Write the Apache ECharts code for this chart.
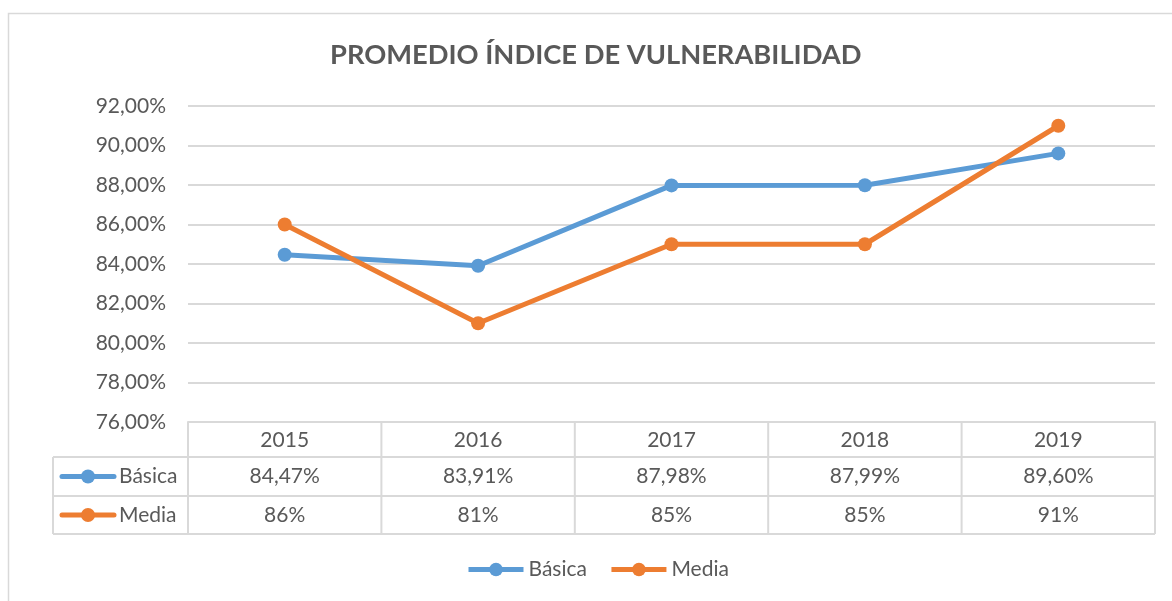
<!DOCTYPE html>
<html>
<head>
<meta charset="utf-8">
<script src="https://cdn.jsdelivr.net/npm/echarts@6/dist/echarts.min.js"></script>
<style>
  html, body { margin: 0; padding: 0; background: #fff; }
  #chart { width: 1172px; height: 601px; }
</style>
</head>
<body>
<div id="chart"></div>
<script>
// datos
var years = ['2015', '2016', '2017', '2018', '2019'];
var basica = [84.47, 83.91, 87.98, 87.99, 89.60];
var media = [86, 81, 85, 85, 91];
var seriesNames = ['Básica', 'Media'];
var colors = ['#5B9BD5', '#ED7D31'];
var yTicks = { min: 76, max: 92, step: 2 };

var FONT = 'Lato';
var GRAY = '#595959';
var LINE = '#d9d9d9';

function pct(v, dec) {
    return v.toFixed(dec).replace('.', ',') + '%';
}

var myChart = echarts.init(document.getElementById('chart'));

var option = {
    animation: false,
    textStyle: { fontFamily: FONT },
    title: {
        text: 'PROMEDIO ÍNDICE DE VULNERABILIDAD',
        left: 325,
        top: 37,
        textStyle: { fontFamily: FONT, fontWeight: 'bold', fontSize: 27.3, color: GRAY }
    },
    legend: {
        data: seriesNames,
        bottom: 16,
        left: 461,
        itemWidth: 55,
        itemHeight: 17,
        itemGap: 22,
        lineStyle: { width: 5 },
        textStyle: { fontFamily: FONT, fontSize: 21, color: GRAY }
    },
    grid: { left: 188, right: 17, top: 106, bottom: 179 },
    xAxis: {
        type: 'category',
        data: years,
        boundaryGap: true,
        axisLine: { show: true, lineStyle: { color: LINE, width: 2 } },
        axisTick: { show: false },
        axisLabel: { margin: 8, fontFamily: FONT, fontSize: 21, color: GRAY }
    },
    yAxis: {
        type: 'value',
        min: yTicks.min,
        max: yTicks.max,
        interval: yTicks.step,
        axisLine: { show: false },
        axisTick: { show: false },
        splitLine: { lineStyle: { color: LINE, width: 2 } },
        axisLabel: {
            margin: 22,
            fontFamily: FONT, fontSize: 21, color: GRAY,
            formatter: function (v) { return pct(v, 2); }
        }
    },
    series: [
        {
            name: seriesNames[0], type: 'line', data: basica,
            symbol: 'circle', symbolSize: 14,
            lineStyle: { width: 5, color: colors[0] },
            itemStyle: { color: colors[0] }
        },
        {
            name: seriesNames[1], type: 'line', data: media,
            symbol: 'circle', symbolSize: 14,
            lineStyle: { width: 5, color: colors[1] },
            itemStyle: { color: colors[1] }
        }
    ]
};
myChart.setOption(option);

// tabla de datos bajo el eje
var rows = [
    { name: seriesNames[0], color: colors[0], vals: basica.map(function (v) { return pct(v, 2); }) },
    { name: seriesNames[1], color: colors[1], vals: media.map(function (v) { return pct(v, 0); }) }
];
var centers = years.map(function (y, i) { return myChart.convertToPixel({ xAxisIndex: 0 }, i); });
var cellW = centers[1] - centers[0];
var x0 = centers[0] - cellW / 2;
var x1 = centers[centers.length - 1] + cellW / 2;
var y0 = myChart.convertToPixel({ yAxisIndex: 0 }, yTicks.min);
var rowY = [y0, y0 + 35, y0 + 74, y0 + 112];
var tableLeft = 53;

var g = [];
// marco exterior del gráfico
g.push({ type: 'rect', shape: { x: 8.5, y: 13.5, width: 1180, height: 600 },
    style: { fill: null, stroke: LINE, lineWidth: 1.5 }, silent: true });
// lineas horizontales
g.push({ type: 'line', shape: { x1: tableLeft, y1: rowY[1], x2: x1, y2: rowY[1] }, style: { stroke: LINE, lineWidth: 2 } });
g.push({ type: 'line', shape: { x1: tableLeft, y1: rowY[2], x2: x1, y2: rowY[2] }, style: { stroke: LINE, lineWidth: 2 } });
g.push({ type: 'line', shape: { x1: tableLeft, y1: rowY[3], x2: x1, y2: rowY[3] }, style: { stroke: LINE, lineWidth: 2 } });
// lineas verticales
for (var i = 0; i <= years.length; i++) {
    var vx = x0 + i * cellW;
    g.push({ type: 'line', shape: { x1: vx, y1: rowY[0], x2: vx, y2: rowY[3] }, style: { stroke: LINE, lineWidth: 2 } });
}
g.push({ type: 'line', shape: { x1: tableLeft, y1: rowY[1], x2: tableLeft, y2: rowY[3] }, style: { stroke: LINE, lineWidth: 2 } });
// contenido
rows.forEach(function (r, k) {
    var cy = (rowY[k + 1] + rowY[k + 2]) / 2;
    g.push({ type: 'line', shape: { x1: 62, y1: cy, x2: 114, y2: cy },
        style: { stroke: r.color, lineWidth: 5, lineCap: 'round' } });
    g.push({ type: 'circle', shape: { cx: 88, cy: cy, r: 7 }, style: { fill: r.color } });
    g.push({ type: 'text', x: 119, y: cy, style: { text: r.name, font: '21px ' + FONT, fill: GRAY, textVerticalAlign: 'middle' } });
    r.vals.forEach(function (t, i) {
        g.push({ type: 'text', x: centers[i], y: cy,
            style: { text: t, font: '21px ' + FONT, fill: GRAY, textAlign: 'center', textVerticalAlign: 'middle' } });
    });
});
myChart.setOption({ graphic: g });
</script>
</body>
</html>
